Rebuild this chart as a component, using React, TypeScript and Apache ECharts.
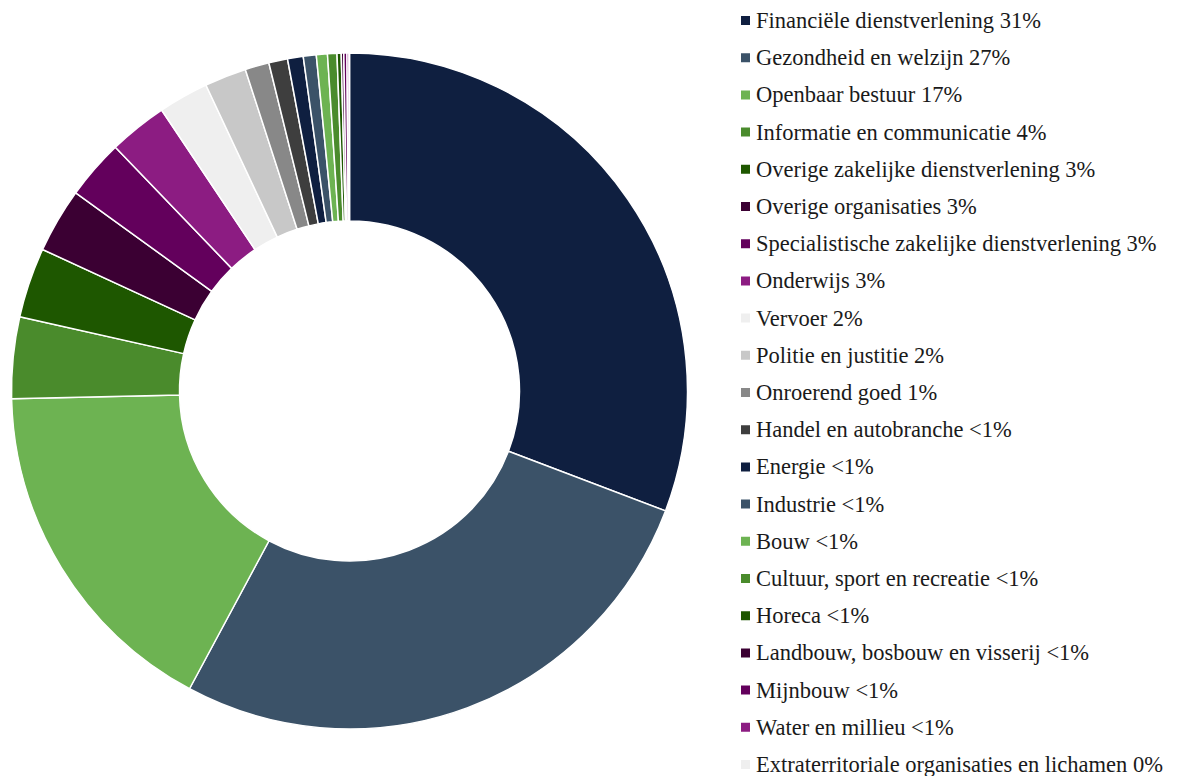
import React, { useEffect, useRef } from "react";
import * as echarts from "echarts";

const categories = [
  "Financiële dienstverlening",
  "Gezondheid en welzijn",
  "Openbaar bestuur",
  "Informatie en communicatie",
  "Overige zakelijke dienstverlening",
  "Overige organisaties",
  "Specialistische zakelijke dienstverlening",
  "Onderwijs",
  "Vervoer",
  "Politie en justitie",
  "Onroerend goed",
  "Handel en autobranche",
  "Energie",
  "Industrie",
  "Bouw",
  "Cultuur, sport en recreatie",
  "Horeca",
  "Landbouw, bosbouw en visserij",
  "Mijnbouw",
  "Water en millieu",
  "Extraterritoriale organisaties en lichamen",
];

const shareLabels = [
  "31%", "27%", "17%", "4%", "3%", "3%", "3%", "3%", "2%", "2%", "1%",
  "<1%", "<1%", "<1%", "<1%", "<1%", "<1%", "<1%", "<1%", "<1%", "0%",
];

const values = [
  30.8, 27.1, 16.8, 3.9, 3.35, 3.1, 2.85, 2.8, 2.4, 2.0, 1.15,
  0.9, 0.75, 0.62, 0.53, 0.45, 0.2, 0.12, 0.15, 0.1, 0.02,
];

const colors = [
  "#0f1f40", "#3b5268", "#6db352", "#4a8b2c", "#1e5700", "#3b0033",
  "#63005c", "#8c1c82", "#efefef", "#c8c8c8", "#888888", "#3e3e3e",
  "#0f1f40", "#3b5268", "#6db352", "#4a8b2c", "#1e5700", "#3b0033",
  "#63005c", "#8c1c82", "#efefef",
];

export default function App() {
  const ref = useRef<HTMLDivElement>(null);
  useEffect(() => {
    document.body.style.margin = "0";
    const chart = echarts.init(ref.current!, undefined, { renderer: "svg" });
    const names = categories.map((c, i) => `${c} ${shareLabels[i]}`);
    const step = 37.2;
    const legendBase = {
      orient: "vertical",
      left: 739,
      padding: 0,
      itemWidth: 11,
      itemHeight: 11,
      itemGap: step - 23,
      icon: "rect",
      selectedMode: false,
      textStyle: {
        fontFamily: "Liberation Serif",
        fontSize: 22.5,
        color: "#1a1a1a",
      },
    };
    chart.setOption({
      animation: false,
      color: colors,
      legend: [
        { ...legendBase, top: 9, data: names.slice(0, 11) },
        { ...legendBase, top: 9 + 11 * step, data: names.slice(11) },
      ],
      series: [
        {
          type: "pie",
          center: [349.5, 391],
          radius: [170, 338],
          startAngle: 90,
          clockwise: true,
          label: { show: false },
          labelLine: { show: false },
          itemStyle: { borderColor: "#ffffff", borderWidth: 1.5 },
          emphasis: { disabled: true },
          data: names.map((n, i) => ({ name: n, value: values[i] })),
        },
      ],
    });
    return () => chart.dispose();
  }, []);
  return <div ref={ref} style={{ width: 1193, height: 776 }} />;
}
